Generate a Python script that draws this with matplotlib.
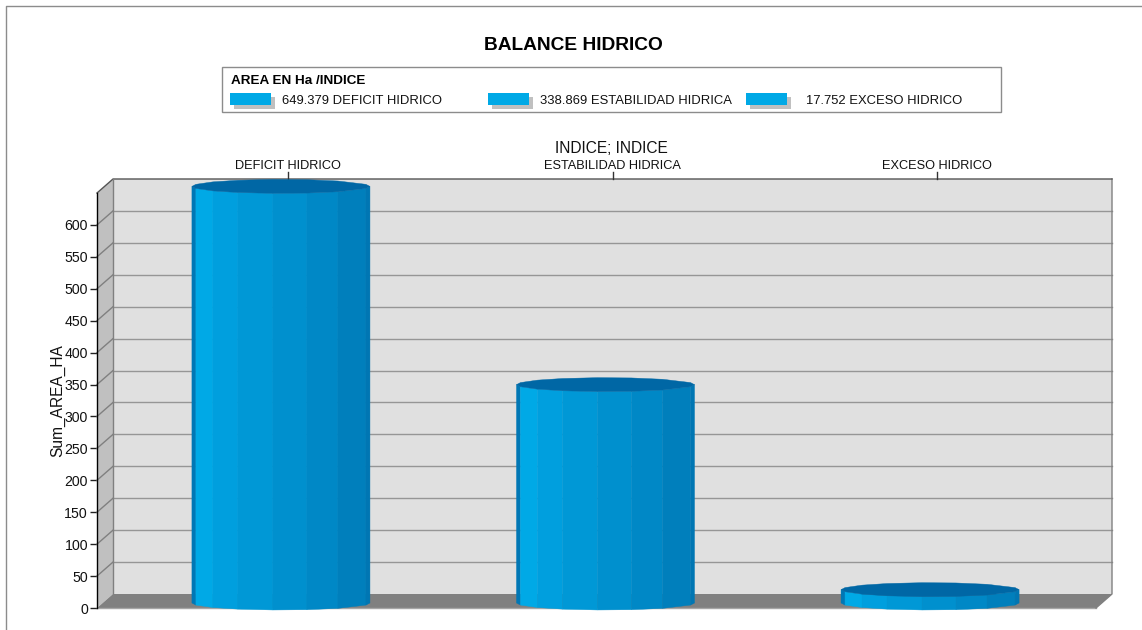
import numpy as np
import matplotlib
matplotlib.use("Agg")
from matplotlib import pyplot as plt
from matplotlib.patches import Polygon, Rectangle
from matplotlib.transforms import ScaledTranslation

plt.rcParams['font.family'] = ['Liberation Sans', 'DejaVu Sans']

# data
categories = ["DEFICIT HIDRICO", "ESTABILIDAD HIDRICA", "EXCESO HIDRICO"]
areas = [649.379, 338.869, 17.752]
y_ticks = [0, 50, 100, 150, 200, 250, 300, 350, 400, 450, 500, 550, 600]
y_top = 650

W, H = 1142, 630
fig = plt.figure(figsize=(W / 100, H / 100), dpi=100, facecolor="white")


def fx(px):
    return px / W


def fy(py):
    return 1 - py / H


# overlay in pixel coordinates for the frame and the legend box
bg = fig.add_axes([0, 0, 1, 1], zorder=0)
bg.set_xlim(0, W)
bg.set_ylim(H, 0)
bg.axis("off")
bg.plot([6, 6, 1141], [630, 6, 6], color="#8c8c8c", lw=1)

# front plane of the 3d box
left, right, bottom, top = 97, 1096, 608, 193
ax = fig.add_axes([fx(left), fy(bottom), (right - left) / W, (bottom - top) / H], zorder=1)
ax.set_xlim(-0.539, 2.539)
ax.set_ylim(0, y_top)
ax.patch.set_visible(False)
for s in ax.spines.values():
    s.set_visible(False)


def shifted(dx, dy):
    return ax.transData + ScaledTranslation(dx / 100, dy / 100, fig.dpi_scale_trans)


back = shifted(16, 14)
mid = shifted(9, 7)
xl, xr = ax.get_xlim()
dx_data = 16 / (324.5)
dy_data = 14 * y_top / (bottom - top)

# back wall, side wall and floor
ax.add_patch(Rectangle((xl, 0), xr - xl, y_top, transform=back, fc="#e0e0e0", ec="none", clip_on=False, zorder=1))
ax.add_patch(Polygon([(xl, 0), (xl + dx_data, dy_data), (xl + dx_data, y_top + dy_data), (xl, y_top)],
                     fc="#c0c0c0", ec="none", clip_on=False, zorder=1))
ax.add_patch(Polygon([(xl, 0), (xl + dx_data, dy_data), (xr + dx_data, dy_data), (xr, 0)],
                     fc="#808080", ec="none", clip_on=False, zorder=2))
ax.plot([xl, xr], [0, 0], color="#a6a6a6", lw=1, clip_on=False, zorder=3)
ax.plot([xr, xr + dx_data, xr + dx_data], [0, dy_data, y_top + dy_data],
        color="#808080", lw=1, clip_on=False, zorder=3)

for t in y_ticks[1:]:
    ax.plot([xl, xr], [t, t], transform=back, color="#969696", lw=1, clip_on=False, zorder=2)
    ax.plot([xl, xl + dx_data], [t, t + dy_data], color="#808080", lw=1, clip_on=False, zorder=2)
ax.plot([xl, xl + dx_data, xr + dx_data], [y_top, y_top + dy_data, y_top + dy_data],
        color="#555555", lw=1, clip_on=False, zorder=3)
ax.plot([xl + dx_data, xl + dx_data], [dy_data, y_top + dy_data], color="#808080", lw=1, clip_on=False, zorder=3)
ax.plot([xl, xl], [0, y_top], color="black", lw=1, clip_on=False, zorder=3)

# cylinders
half_w = 89 / 324.5
ell_h = 7 * y_top / (bottom - top)
base = -2 * y_top / (bottom - top)  # cylinders hang a little below the zero line
edges = np.array([-89, -85, -68, -43, -8, 26, 57, 85, 89]) / 89
facet_cols = ["#0077b5", "#00a9e6", "#009fde", "#0098d6", "#0090ce", "#0088c6", "#007fbc", "#0076b3"]
top_col = "#0067a5"
front = -np.sqrt(1 - edges ** 2)

for i, v in enumerate(areas):
    for j, c in enumerate(facet_cols):
        xs = i + edges[[j, j + 1, j + 1, j]] * half_w
        ys = [v + front[j] * ell_h, v + front[j + 1] * ell_h,
              base + front[j + 1] * ell_h, base + front[j] * ell_h]
        ax.add_patch(Polygon(np.column_stack([xs, ys]), transform=mid, fc=c, ec=c, lw=0.3,
                             clip_on=False, zorder=5))
    outline = np.column_stack([
        i + np.r_[edges, edges[::-1]] * half_w,
        v + np.r_[front, -front[::-1]] * ell_h,
    ])
    ax.add_patch(Polygon(outline, transform=mid, fc=top_col, ec=top_col, lw=0.3, clip_on=False, zorder=6))

# y axis
ax.set_yticks(y_ticks)
ax.tick_params(axis="y", length=5, width=1, color="#222222", labelsize=10.2, pad=1.5, labelcolor="#111111")
ax.set_xticks([])

# category labels and ticks along the back wall
for i, name in enumerate(categories):
    ax.plot([i, i], [y_top, y_top + 7 * y_top / (bottom - top)], transform=back,
            color="#333333", lw=1, clip_on=False, zorder=3)
    bg.text(288 + i * 324.5, 166, name, ha="center", va="center", fontsize=9.2, color="#111111", zorder=5)

fig.text(fx(611), fy(148), "INDICE; INDICE", ha="center", va="center", fontsize=11.2, color="#111111")
fig.text(fx(58), fy(401), "Sum_AREA_HA", rotation=90, ha="center", va="center", fontsize=11.2, color="#111111")
fig.text(fx(573), fy(45), "BALANCE HIDRICO", ha="center", va="center", fontsize=13.8, fontweight="bold", color="black")

# legend
bg.add_patch(Rectangle((222, 67), 779, 45, fc="white", ec="#8c8c8c", lw=1))
bg.text(231, 81, "AREA EN Ha /INDICE", ha="left", va="center", fontsize=9.7, fontweight="bold", color="black")
swatch_x = [230, 488, 746]
text_x = [282, 540, 806]
for sx, tx, name, v in zip(swatch_x, text_x, categories, areas):
    bg.add_patch(Rectangle((sx + 4, 97), 41, 12, fc="#c0c0c0", ec="none"))
    bg.add_patch(Rectangle((sx, 93), 41, 12, fc="#00a9e6", ec="none"))
    bg.text(tx, 101, f"{v:.3f} {name}", ha="left", va="center", fontsize=9.4, color="#111111")

fig.savefig("out.png", dpi=100)
